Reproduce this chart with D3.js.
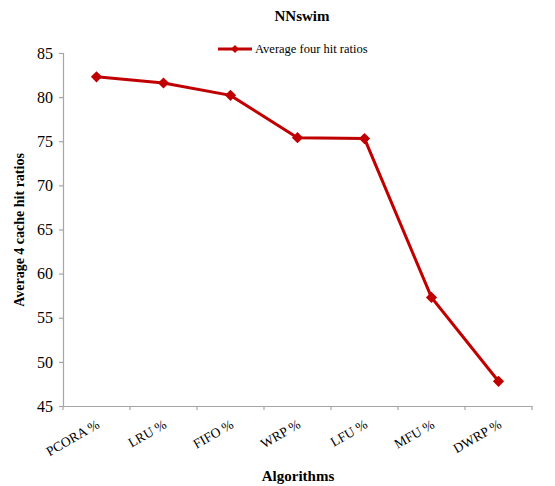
<!DOCTYPE html>
<html>
<head>
<meta charset="utf-8">
<script src="https://cdn.jsdelivr.net/npm/d3@7"></script>
<style>
  body { margin: 0; background: #fff; }
  svg text { font-family: "Liberation Serif", "Times New Roman", "DejaVu Serif", serif !important; fill: #000; }
</style>
</head>
<body>
<svg id="chart" width="555" height="486"></svg>
<script>
var algorithms = ["PCORA %", "LRU %", "FIFO %", "WRP %", "LFU %", "MFU %", "DWRP %"];
var hitRatios = [82.3, 81.6, 80.2, 75.4, 75.3, 57.3, 47.8];
var yTicks = [45, 50, 55, 60, 65, 70, 75, 80, 85];
var seriesName = "Average four hit ratios";

var ctx = {
    left: 63, right: 532, top: 53, bottom: 406,
    red: "#c00000", axisColor: "#a6a6a6"
};

var svgEl = d3.select("#chart");

var x = d3.scaleBand()
    .domain(algorithms)
    .range([ctx.left, ctx.right]);

var y = d3.scaleLinear()
    .domain([45, 85])
    .range([ctx.bottom, ctx.top]);

// y axis
var yAxis = svgEl.append("g")
    .attr("transform", "translate(" + ctx.left + ",0)")
    .call(d3.axisLeft(y).tickValues(yTicks).tickSize(4).tickPadding(6));
yAxis.attr("font-family", null);
yAxis.selectAll("text").attr("font-size", "16px");

// x axis with ticks on category boundaries
var xAxis = svgEl.append("g")
    .attr("transform", "translate(0," + ctx.bottom + ")")
    .call(d3.axisBottom(x).tickSize(0).tickFormat(""));
xAxis.selectAll(".tick").remove();
xAxis.selectAll("line.bound")
    .data(algorithms.concat([null]))
    .enter()
    .append("line")
    .attr("class", "bound")
    .attr("x1", (d, i) => ctx.left + i * x.step())
    .attr("x2", (d, i) => ctx.left + i * x.step())
    .attr("y1", 0)
    .attr("y2", 4);

svgEl.selectAll(".domain, .tick line, line.bound")
    .attr("stroke", ctx.axisColor)
    .attr("stroke-width", 1.2);

// rotated category labels
svgEl.append("g").selectAll("text")
    .data(algorithms)
    .enter()
    .append("text")
    .attr("transform", d => "translate(" + (x(d) + x.bandwidth() / 2 + 4) + "," + (ctx.bottom + 21) + ") rotate(-30)")
    .attr("text-anchor", "end")
    .attr("font-size", "13.5px")
    .text(d => d);

// line + markers
var line = d3.line()
    .x((d, i) => x(algorithms[i]) + x.bandwidth() / 2)
    .y(d => y(d));

svgEl.append("path")
    .datum(hitRatios)
    .attr("d", line)
    .attr("fill", "none")
    .attr("stroke", ctx.red)
    .attr("stroke-width", 3);

var diamond = d3.symbol().type(d3.symbolDiamond2).size(80);
svgEl.append("g").selectAll("path")
    .data(hitRatios)
    .enter()
    .append("path")
    .attr("d", diamond)
    .attr("transform", (d, i) => "translate(" + (x(algorithms[i]) + x.bandwidth() / 2) + "," + y(d) + ")")
    .attr("fill", ctx.red);

// title
svgEl.append("text")
    .attr("x", 302).attr("y", 21)
    .attr("text-anchor", "middle")
    .attr("font-weight", "bold")
    .attr("font-size", "15px")
    .text("NNswim");

// legend
var legendG = svgEl.append("g").attr("transform", "translate(218,49)");
legendG.append("line")
    .attr("x1", 0).attr("x2", 34).attr("y1", 0).attr("y2", 0)
    .attr("stroke", ctx.red).attr("stroke-width", 3);
legendG.append("path")
    .attr("d", d3.symbol().type(d3.symbolDiamond2).size(40))
    .attr("transform", "translate(17,0)")
    .attr("fill", ctx.red);
legendG.append("text")
    .attr("x", 37).attr("y", 4)
    .attr("font-size", "12.5px")
    .text(seriesName);

// axis titles
svgEl.append("text")
    .attr("transform", "translate(24,230) rotate(-90)")
    .attr("text-anchor", "middle")
    .attr("font-weight", "bold")
    .attr("font-size", "14px")
    .text("Average 4 cache hit ratios");

svgEl.append("text")
    .attr("x", 298).attr("y", 481)
    .attr("text-anchor", "middle")
    .attr("font-weight", "bold")
    .attr("font-size", "15px")
    .text("Algorithms");
</script>
</body>
</html>
